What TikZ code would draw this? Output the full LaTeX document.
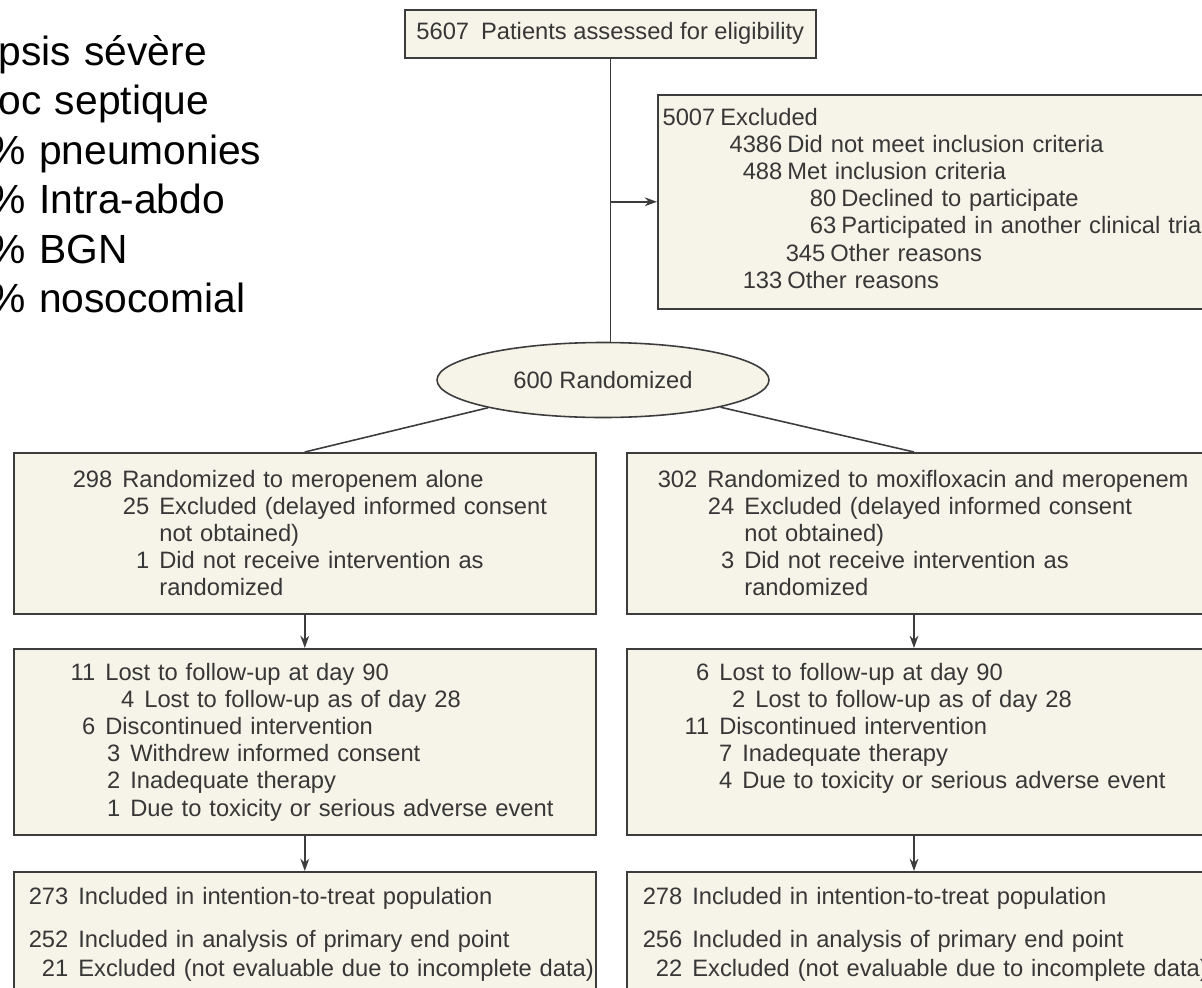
\documentclass[tikz,border=0pt]{standalone}
\usepackage{fontspec}
\setmainfont{Liberation Sans}
\usetikzlibrary{shapes.geometric}
\usetikzlibrary{arrows.meta}
\definecolor{boxfill}{RGB}{246,243,232}
\definecolor{linegray}{RGB}{60,60,60}
\definecolor{textgray}{RGB}{55,55,55}
\newlength{\pxu}
\setlength{\pxu}{0.02cm}
\newlength{\fgap}
\setlength{\fgap}{10\pxu}
\newcommand{\boxfont}{\fontsize{13.5}{15.5}\selectfont}
\newcommand{\fline}[3]{\makebox[#1\pxu][r]{#2}\hspace{\fgap}#3}

\begin{document}
\begin{tikzpicture}[x = 0.02cm, y = -0.02cm]
\tikzstyle{BoxStyle}=[draw = linegray, fill = boxfill, line width = 0.9pt, rectangle, inner sep = 0pt, anchor = north west]
\tikzstyle{TextStyle}=[anchor = base west, inner sep = 0pt, text width = 13cm, align = left, text = textgray, font = \boxfont]
\tikzstyle{LineStyle}=[draw = linegray, line width = 0.9pt]
\tikzstyle{ArrowStyle}=[LineStyle, -{Stealth[length = 7pt, width = 5pt]}]
\useasboundingbox (0,0) rectangle (1202,987);
\clip (0,0) rectangle (1202,987);
\node[anchor = base west, inner sep = 0pt, text width = 10cm, align = left, font = \fontsize{23.2}{28.2}\selectfont] (sepsis) at (-11,65) {\hspace*{9\pxu}psis sévère\\\hspace*{9\pxu}oc septique\\\% pneumonies\\\% Intra-abdo\\\% BGN\\\% nosocomial};
\node[BoxStyle, minimum width = 411\pxu, minimum height = 48\pxu, text = textgray, font = \boxfont] (assessed) at (404,9) {5607\hspace{12\pxu}Patients assessed for eligibility};
\node[BoxStyle, minimum width = 600\pxu, minimum height = 214\pxu] (excl) at (657,94) {};
\node[draw = linegray, fill = boxfill, line width = 0.9pt, ellipse, inner sep = 0pt, minimum width = 332\pxu, minimum height = 75\pxu, text = textgray, font = \boxfont] (rand) at (603,380) {600 Randomized};
\node[BoxStyle, minimum width = 582\pxu, minimum height = 161\pxu] (mero) at (13,452) {};
\node[BoxStyle, minimum width = 600\pxu, minimum height = 161\pxu] (moxi) at (626,452) {};
\node[BoxStyle, minimum width = 582\pxu, minimum height = 186\pxu] (merolost) at (13,648) {};
\node[BoxStyle, minimum width = 600\pxu, minimum height = 186\pxu] (moxilost) at (626,648) {};
\node[BoxStyle, minimum width = 582\pxu, minimum height = 150\pxu] (meroitt) at (13,871) {};
\node[BoxStyle, minimum width = 600\pxu, minimum height = 150\pxu] (moxiitt) at (626,871) {};
\coordinate (rmid) at (914,452);
\node[TextStyle, execute at begin node = {\setlength{\fgap}{5\pxu}}] (excltext) at (657,125) {\fline{58}{5007}{Excluded}\\\fline{125}{4386}{Did not meet inclusion criteria}\\\fline{125}{488}{Met inclusion criteria}\\\fline{179}{80}{Declined to participate}\\\fline{179}{63}{Participated in another clinical trial}\\\fline{168}{345}{Other reasons}\\\fline{125}{133}{Other reasons}};
\node[TextStyle] (merotext) at (13,487) {\fline{99}{298}{Randomized to meropenem alone}\\\fline{136}{25}{Excluded (delayed informed consent}\\\fline{136}{}{not obtained)}\\\fline{136}{1}{Did not receive intervention as}\\\fline{136}{}{randomized}};
\node[TextStyle] (moxitext) at (626,487) {\fline{71}{302}{Randomized to moxifloxacin and meropenem}\\\fline{108}{24}{Excluded (delayed informed consent}\\\fline{108}{}{not obtained)}\\\fline{108}{3}{Did not receive intervention as}\\\fline{108}{}{randomized}};
\node[TextStyle] (merolosttext) at (13,680) {\fline{82}{11}{Lost to follow-up at day 90}\\\fline{121}{4}{Lost to follow-up as of day 28}\\\fline{82}{6}{Discontinued intervention}\\\fline{107}{3}{Withdrew informed consent}\\\fline{107}{2}{Inadequate therapy}\\\fline{107}{1}{Due to toxicity or serious adverse event}};
\node[TextStyle] (moxilosttext) at (626,680) {\fline{83}{6}{Lost to follow-up at day 90}\\\fline{119}{2}{Lost to follow-up as of day 28}\\\fline{83}{11}{Discontinued intervention}\\\fline{106}{7}{Inadequate therapy}\\\fline{106}{4}{Due to toxicity or serious adverse event}};
\node[TextStyle] (meroitttext) at (13,904) {\fline{55}{273}{Included in intention-to-treat population}\\[9pt]\fline{55}{252}{Included in analysis of primary end point}\\[1.5pt]\fline{55}{21}{Excluded (not evaluable due to incomplete data)}};
\node[TextStyle] (moxiitttext) at (626,904) {\fline{56}{278}{Included in intention-to-treat population}\\[9pt]\fline{56}{256}{Included in analysis of primary end point}\\[1.5pt]\fline{56}{22}{Excluded (not evaluable due to incomplete data)}};
\draw[LineStyle] (assessed.south) -- (assessed.south |- rand.north);
\draw[ArrowStyle] (assessed.south |- excl.west) -- (excl.west);
\draw[LineStyle] (rand) -- (mero.north);
\draw[LineStyle] (rand) -- (rmid);
\draw[ArrowStyle] (mero.south) -- (merolost.north);
\draw[ArrowStyle] (merolost.south) -- (meroitt.north);
\draw[ArrowStyle] (moxi.south -| rmid) -- (moxilost.north -| rmid);
\draw[ArrowStyle] (moxilost.south -| rmid) -- (moxiitt.north -| rmid);
\end{tikzpicture}
\end{document}
